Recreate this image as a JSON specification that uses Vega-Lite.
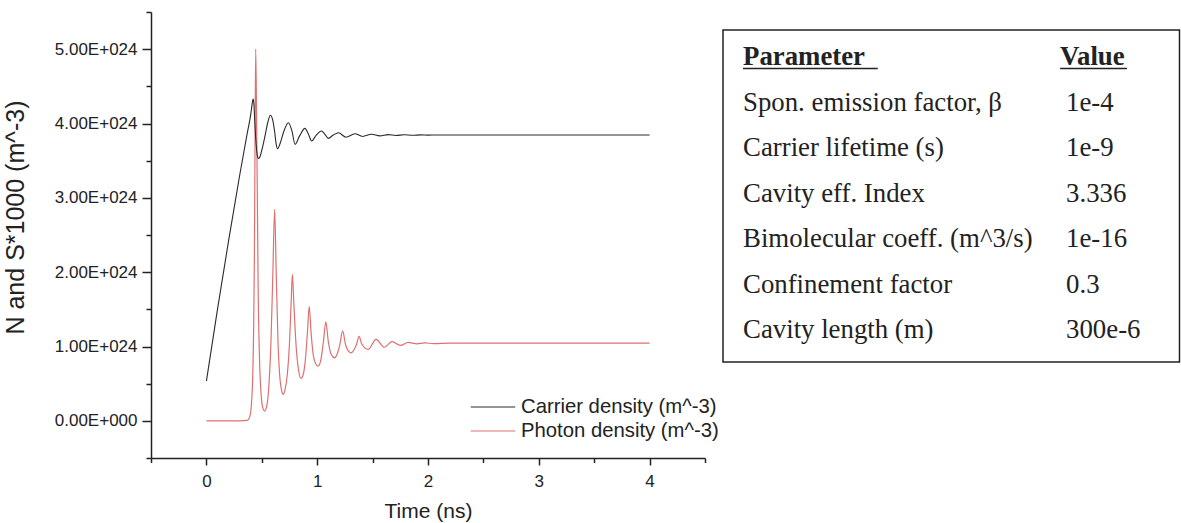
{
  "$schema": "https://vega.github.io/schema/vega-lite/v6.json",
  "background": "white",
  "autosize": {"type": "pad"},
  "padding": {"left": 2, "top": 11, "right": 0, "bottom": 0},
  "bounds": "flush",
  "spacing": 18,
  "config": {
    "view": {"stroke": null},
    "font": "Liberation Sans",
    "axis": {
      "grid": false,
      "domainColor": "#222222",
      "tickColor": "#222222",
      "labelColor": "#222222",
      "titleColor": "#222222",
      "domainWidth": 1.5,
      "tickWidth": 1.5,
      "labelFont": "Liberation Sans",
      "titleFont": "Liberation Sans",
      "titleFontWeight": "normal"
    }
  },
  "datasets": {
    "curves": [
      {"t": 0, "series": "Carrier density (m^-3)", "v": 0.534e24},
      {"t": 0.1, "series": "Carrier density (m^-3)", "v": 1.5e24},
      {"t": 0.2, "series": "Carrier density (m^-3)", "v": 2.42e24},
      {"t": 0.3, "series": "Carrier density (m^-3)", "v": 3.3e24},
      {"t": 0.37, "series": "Carrier density (m^-3)", "v": 3.88e24},
      {"t": 0.4, "series": "Carrier density (m^-3)", "v": 4.12e24},
      {"t": 0.412, "series": "Carrier density (m^-3)", "v": 4.25e24},
      {"t": 0.421, "series": "Carrier density (m^-3)", "v": 4.33e24},
      {"t": 0.428, "series": "Carrier density (m^-3)", "v": 4.28e24},
      {"t": 0.436, "series": "Carrier density (m^-3)", "v": 4.05e24},
      {"t": 0.445, "series": "Carrier density (m^-3)", "v": 3.8e24},
      {"t": 0.455, "series": "Carrier density (m^-3)", "v": 3.62e24},
      {"t": 0.465, "series": "Carrier density (m^-3)", "v": 3.54e24},
      {"t": 0.472, "series": "Carrier density (m^-3)", "v": 3.53e24},
      {"t": 0.485, "series": "Carrier density (m^-3)", "v": 3.56e24},
      {"t": 0.5, "series": "Carrier density (m^-3)", "v": 3.64e24},
      {"t": 0.53, "series": "Carrier density (m^-3)", "v": 3.84e24},
      {"t": 0.555, "series": "Carrier density (m^-3)", "v": 4.02e24},
      {"t": 0.577, "series": "Carrier density (m^-3)", "v": 4.11e24},
      {"t": 0.598, "series": "Carrier density (m^-3)", "v": 4.05e24},
      {"t": 0.615, "series": "Carrier density (m^-3)", "v": 3.9e24},
      {"t": 0.628, "series": "Carrier density (m^-3)", "v": 3.74e24},
      {"t": 0.642, "series": "Carrier density (m^-3)", "v": 3.66e24},
      {"t": 0.665, "series": "Carrier density (m^-3)", "v": 3.73e24},
      {"t": 0.7, "series": "Carrier density (m^-3)", "v": 3.9e24},
      {"t": 0.74, "series": "Carrier density (m^-3)", "v": 4.01e24},
      {"t": 0.772, "series": "Carrier density (m^-3)", "v": 3.9e24},
      {"t": 0.8, "series": "Carrier density (m^-3)", "v": 3.72e24},
      {"t": 0.84, "series": "Carrier density (m^-3)", "v": 3.83e24},
      {"t": 0.889, "series": "Carrier density (m^-3)", "v": 3.935e24},
      {"t": 0.92, "series": "Carrier density (m^-3)", "v": 3.86e24},
      {"t": 0.95, "series": "Carrier density (m^-3)", "v": 3.765e24},
      {"t": 0.99, "series": "Carrier density (m^-3)", "v": 3.84e24},
      {"t": 1.038, "series": "Carrier density (m^-3)", "v": 3.9e24},
      {"t": 1.07, "series": "Carrier density (m^-3)", "v": 3.855e24},
      {"t": 1.1, "series": "Carrier density (m^-3)", "v": 3.8e24},
      {"t": 1.145, "series": "Carrier density (m^-3)", "v": 3.845e24},
      {"t": 1.192, "series": "Carrier density (m^-3)", "v": 3.876e24},
      {"t": 1.26, "series": "Carrier density (m^-3)", "v": 3.815e24},
      {"t": 1.34, "series": "Carrier density (m^-3)", "v": 3.862e24},
      {"t": 1.41, "series": "Carrier density (m^-3)", "v": 3.826e24},
      {"t": 1.49, "series": "Carrier density (m^-3)", "v": 3.856e24},
      {"t": 1.565, "series": "Carrier density (m^-3)", "v": 3.833e24},
      {"t": 1.64, "series": "Carrier density (m^-3)", "v": 3.851e24},
      {"t": 1.71, "series": "Carrier density (m^-3)", "v": 3.838e24},
      {"t": 1.785, "series": "Carrier density (m^-3)", "v": 3.849e24},
      {"t": 1.86, "series": "Carrier density (m^-3)", "v": 3.841e24},
      {"t": 1.935, "series": "Carrier density (m^-3)", "v": 3.847e24},
      {"t": 2.0, "series": "Carrier density (m^-3)", "v": 3.843e24},
      {"t": 2.08, "series": "Carrier density (m^-3)", "v": 3.846e24},
      {"t": 2.3, "series": "Carrier density (m^-3)", "v": 3.845e24},
      {"t": 4.0, "series": "Carrier density (m^-3)", "v": 3.845e24},

      {"t": 0, "series": "Photon density (m^-3)", "v": 0},
      {"t": 0.3, "series": "Photon density (m^-3)", "v": 0},
      {"t": 0.37, "series": "Photon density (m^-3)", "v": 0.005e24},
      {"t": 0.39, "series": "Photon density (m^-3)", "v": 0.05e24},
      {"t": 0.405, "series": "Photon density (m^-3)", "v": 0.2e24},
      {"t": 0.418, "series": "Photon density (m^-3)", "v": 0.6e24},
      {"t": 0.427, "series": "Photon density (m^-3)", "v": 1.3e24},
      {"t": 0.433, "series": "Photon density (m^-3)", "v": 2.2e24},
      {"t": 0.438, "series": "Photon density (m^-3)", "v": 3.5e24},
      {"t": 0.445, "series": "Photon density (m^-3)", "v": 5.0e24},
      {"t": 0.452, "series": "Photon density (m^-3)", "v": 4.2e24},
      {"t": 0.46, "series": "Photon density (m^-3)", "v": 3.0e24},
      {"t": 0.467, "series": "Photon density (m^-3)", "v": 1.8e24},
      {"t": 0.478, "series": "Photon density (m^-3)", "v": 0.9e24},
      {"t": 0.492, "series": "Photon density (m^-3)", "v": 0.4e24},
      {"t": 0.51, "series": "Photon density (m^-3)", "v": 0.17e24},
      {"t": 0.526, "series": "Photon density (m^-3)", "v": 0.13e24},
      {"t": 0.545, "series": "Photon density (m^-3)", "v": 0.2e24},
      {"t": 0.565, "series": "Photon density (m^-3)", "v": 0.5e24},
      {"t": 0.583, "series": "Photon density (m^-3)", "v": 1.07e24},
      {"t": 0.6, "series": "Photon density (m^-3)", "v": 2.0e24},
      {"t": 0.616, "series": "Photon density (m^-3)", "v": 2.845e24},
      {"t": 0.63, "series": "Photon density (m^-3)", "v": 2.0e24},
      {"t": 0.646, "series": "Photon density (m^-3)", "v": 1.07e24},
      {"t": 0.665, "series": "Photon density (m^-3)", "v": 0.55e24},
      {"t": 0.68, "series": "Photon density (m^-3)", "v": 0.4e24},
      {"t": 0.692, "series": "Photon density (m^-3)", "v": 0.355e24},
      {"t": 0.71, "series": "Photon density (m^-3)", "v": 0.42e24},
      {"t": 0.73, "series": "Photon density (m^-3)", "v": 0.62e24},
      {"t": 0.75, "series": "Photon density (m^-3)", "v": 1.05e24},
      {"t": 0.765, "series": "Photon density (m^-3)", "v": 1.6e24},
      {"t": 0.776, "series": "Photon density (m^-3)", "v": 1.97e24},
      {"t": 0.79, "series": "Photon density (m^-3)", "v": 1.55e24},
      {"t": 0.81, "series": "Photon density (m^-3)", "v": 1.0e24},
      {"t": 0.83, "series": "Photon density (m^-3)", "v": 0.7e24},
      {"t": 0.854, "series": "Photon density (m^-3)", "v": 0.57e24},
      {"t": 0.875, "series": "Photon density (m^-3)", "v": 0.63e24},
      {"t": 0.895, "series": "Photon density (m^-3)", "v": 0.85e24},
      {"t": 0.912, "series": "Photon density (m^-3)", "v": 1.2e24},
      {"t": 0.928, "series": "Photon density (m^-3)", "v": 1.54e24},
      {"t": 0.944, "series": "Photon density (m^-3)", "v": 1.2e24},
      {"t": 0.965, "series": "Photon density (m^-3)", "v": 0.88e24},
      {"t": 0.985, "series": "Photon density (m^-3)", "v": 0.77e24},
      {"t": 1.007, "series": "Photon density (m^-3)", "v": 0.736e24},
      {"t": 1.03, "series": "Photon density (m^-3)", "v": 0.8e24},
      {"t": 1.055, "series": "Photon density (m^-3)", "v": 1.05e24},
      {"t": 1.078, "series": "Photon density (m^-3)", "v": 1.33e24},
      {"t": 1.1, "series": "Photon density (m^-3)", "v": 1.07e24},
      {"t": 1.125, "series": "Photon density (m^-3)", "v": 0.9e24},
      {"t": 1.158, "series": "Photon density (m^-3)", "v": 0.848e24},
      {"t": 1.18, "series": "Photon density (m^-3)", "v": 0.9e24},
      {"t": 1.205, "series": "Photon density (m^-3)", "v": 1.03e24},
      {"t": 1.23, "series": "Photon density (m^-3)", "v": 1.21e24},
      {"t": 1.255, "series": "Photon density (m^-3)", "v": 1.03e24},
      {"t": 1.28, "series": "Photon density (m^-3)", "v": 0.94e24},
      {"t": 1.305, "series": "Photon density (m^-3)", "v": 0.915e24},
      {"t": 1.355, "series": "Photon density (m^-3)", "v": 1.03e24},
      {"t": 1.378, "series": "Photon density (m^-3)", "v": 1.135e24},
      {"t": 1.4, "series": "Photon density (m^-3)", "v": 1.04e24},
      {"t": 1.459, "series": "Photon density (m^-3)", "v": 0.96e24},
      {"t": 1.531, "series": "Photon density (m^-3)", "v": 1.095e24},
      {"t": 1.606, "series": "Photon density (m^-3)", "v": 0.99e24},
      {"t": 1.675, "series": "Photon density (m^-3)", "v": 1.065e24},
      {"t": 1.751, "series": "Photon density (m^-3)", "v": 1.015e24},
      {"t": 1.82, "series": "Photon density (m^-3)", "v": 1.055e24},
      {"t": 1.9, "series": "Photon density (m^-3)", "v": 1.035e24},
      {"t": 1.97, "series": "Photon density (m^-3)", "v": 1.048e24},
      {"t": 2.05, "series": "Photon density (m^-3)", "v": 1.04e24},
      {"t": 2.2, "series": "Photon density (m^-3)", "v": 1.046e24},
      {"t": 4.0, "series": "Photon density (m^-3)", "v": 1.045e24}
    ],
    "params": [
      {"row": 0, "param": "Parameter", "value": "Value"},
      {"row": 1, "param": "Spon. emission factor, β", "value": "1e-4"},
      {"row": 2, "param": "Carrier lifetime (s)", "value": "1e-9"},
      {"row": 3, "param": "Cavity eff. Index", "value": "3.336"},
      {"row": 4, "param": "Bimolecular coeff. (m^3/s)", "value": "1e-16"},
      {"row": 5, "param": "Confinement factor", "value": "0.3"},
      {"row": 6, "param": "Cavity length (m)", "value": "300e-6"}
    ]
  },
  "hconcat": [
    {
      "width": 554,
      "height": 446,
      "data": {"name": "curves"},
      "encoding": {
        "color": {
          "field": "series",
          "type": "nominal",
          "scale": {
            "domain": ["Carrier density (m^-3)", "Photon density (m^-3)"],
            "range": ["#2a2a2a", "#e07070"]
          },
          "legend": {
            "orient": "none",
            "legendX": 319,
            "legendY": 385,
            "title": null,
            "padding": 0,
            "symbolType": "stroke",
            "symbolSize": 1980,
            "symbolStrokeWidth": 1.2,
            "clipHeight": 20,
            "rowPadding": 3,
            "labelOffset": 5,
            "labelFont": "Liberation Sans",
            "labelFontSize": 20.3,
            "labelColor": "#222222",
            "labelLimit": 400
          }
        }
      },
      "layer": [
        {
          "transform": [{"filter": "datum.series == 'Photon density (m^-3)'"}],
          "mark": {"type": "line", "interpolate": "monotone", "strokeWidth": 1.2},
          "encoding": {
            "x": {
              "field": "t",
              "type": "quantitative",
              "scale": {"domain": [-0.5, 4.5], "nice": false, "zero": false},
              "axis": {
                "orient": "bottom",
                "values": [-0.5, 0.5, 1.5, 2.5, 3.5, 4.5],
                "tickSize": 4.5,
                "labels": false,
                "domain": false,
                "title": null
              }
            },
            "y": {
              "field": "v",
              "type": "quantitative",
              "scale": {"domain": [-0.5e24, 5.5e24], "nice": false, "zero": false},
              "axis": {
                "orient": "left",
                "values": [-0.5e24, 0.5e24, 1.5e24, 2.5e24, 3.5e24, 4.5e24, 5.5e24],
                "tickSize": 5,
                "labels": false,
                "domain": false,
                "title": null
              }
            }
          }
        },
        {
          "transform": [{"filter": "datum.series == 'Carrier density (m^-3)'"}],
          "mark": {"type": "line", "interpolate": "monotone", "strokeWidth": 1.1},
          "encoding": {
            "x": {
              "field": "t",
              "type": "quantitative",
              "scale": {"domain": [-0.5, 4.5], "nice": false, "zero": false},
              "axis": {
                "orient": "bottom",
                "values": [0, 1, 2, 3, 4],
                "tickSize": 7,
                "labelFontSize": 17,
                "labelPadding": 8.5,
                "title": "Time (ns)",
                "titleFontSize": 21,
                "titlePadding": 11
              }
            },
            "y": {
              "field": "v",
              "type": "quantitative",
              "scale": {"domain": [-0.5e24, 5.5e24], "nice": false, "zero": false},
              "axis": {
                "orient": "left",
                "values": [0, 1e24, 2e24, 3e24, 4e24, 5e24],
                "tickSize": 9,
                "labelFontSize": 17,
                "labelPadding": 5,
                "labelExpr": "datum.value == 0 ? '0.00E+000' : format(datum.value / 1e24, '.2f') + 'E+024'",
                "title": "N and S*1000 (m^-3)",
                "titleFontSize": 25,
                "titleBaseline": "alphabetic",
                "titleX": -128,
                "titleY": 205
              }
            }
          }
        }
      ],
      "resolve": {"axis": {"x": "independent", "y": "independent"}}
    },
    {
      "width": 458,
      "height": 446,
      "data": {"name": "params"},
      "layer": [
        {
          "transform": [{"filter": "datum.row == 0"}],
          "mark": {"type": "rect", "fill": null, "stroke": "#222222", "strokeWidth": 1.5},
          "encoding": {
            "x": {"datum": 0, "type": "quantitative", "scale": {"domain": [0, 1], "nice": false, "zero": false}, "axis": null},
            "x2": {"datum": 0.9967},
            "y": {"datum": -0.769, "type": "quantitative", "scale": {"domain": [-1.165, 8.637], "nice": false, "zero": false, "reverse": true}, "axis": null},
            "y2": {"datum": 6.527}
          }
        },
        {
          "transform": [{"filter": "datum.row == 0"}],
          "mark": {"type": "text", "align": "left", "baseline": "alphabetic", "font": "Liberation Serif", "fontSize": 26.8, "fontWeight": "bold", "color": "#222222"},
          "encoding": {
            "x": {"datum": 0.0437, "type": "quantitative"},
            "y": {"field": "row", "type": "quantitative"},
            "text": {"field": "param"}
          }
        },
        {
          "transform": [{"filter": "datum.row == 0"}],
          "mark": {"type": "text", "align": "left", "baseline": "alphabetic", "font": "Liberation Serif", "fontSize": 26.8, "fontWeight": "bold", "color": "#222222"},
          "encoding": {
            "x": {"datum": 0.736, "type": "quantitative"},
            "y": {"field": "row", "type": "quantitative"},
            "text": {"field": "value"}
          }
        },
        {
          "transform": [{"filter": "datum.row == 0"}],
          "mark": {"type": "rule", "stroke": "#222222", "strokeWidth": 1.5, "yOffset": 3.5},
          "encoding": {
            "x": {"datum": 0.0437, "type": "quantitative"},
            "x2": {"datum": 0.338},
            "y": {"field": "row", "type": "quantitative"}
          }
        },
        {
          "transform": [{"filter": "datum.row == 0"}],
          "mark": {"type": "rule", "stroke": "#222222", "strokeWidth": 1.5, "yOffset": 3.5},
          "encoding": {
            "x": {"datum": 0.736, "type": "quantitative"},
            "x2": {"datum": 0.882},
            "y": {"field": "row", "type": "quantitative"}
          }
        },
        {
          "transform": [{"filter": "datum.row > 0"}],
          "mark": {"type": "text", "align": "left", "baseline": "alphabetic", "font": "Liberation Serif", "fontSize": 26.8, "color": "#222222"},
          "encoding": {
            "x": {"datum": 0.0437, "type": "quantitative"},
            "y": {"field": "row", "type": "quantitative"},
            "text": {"field": "param"}
          }
        },
        {
          "transform": [{"filter": "datum.row > 0"}],
          "mark": {"type": "text", "align": "left", "baseline": "alphabetic", "font": "Liberation Serif", "fontSize": 26.8, "color": "#222222"},
          "encoding": {
            "x": {"datum": 0.749, "type": "quantitative"},
            "y": {"field": "row", "type": "quantitative"},
            "text": {"field": "value"}
          }
        }
      ]
    }
  ]
}
